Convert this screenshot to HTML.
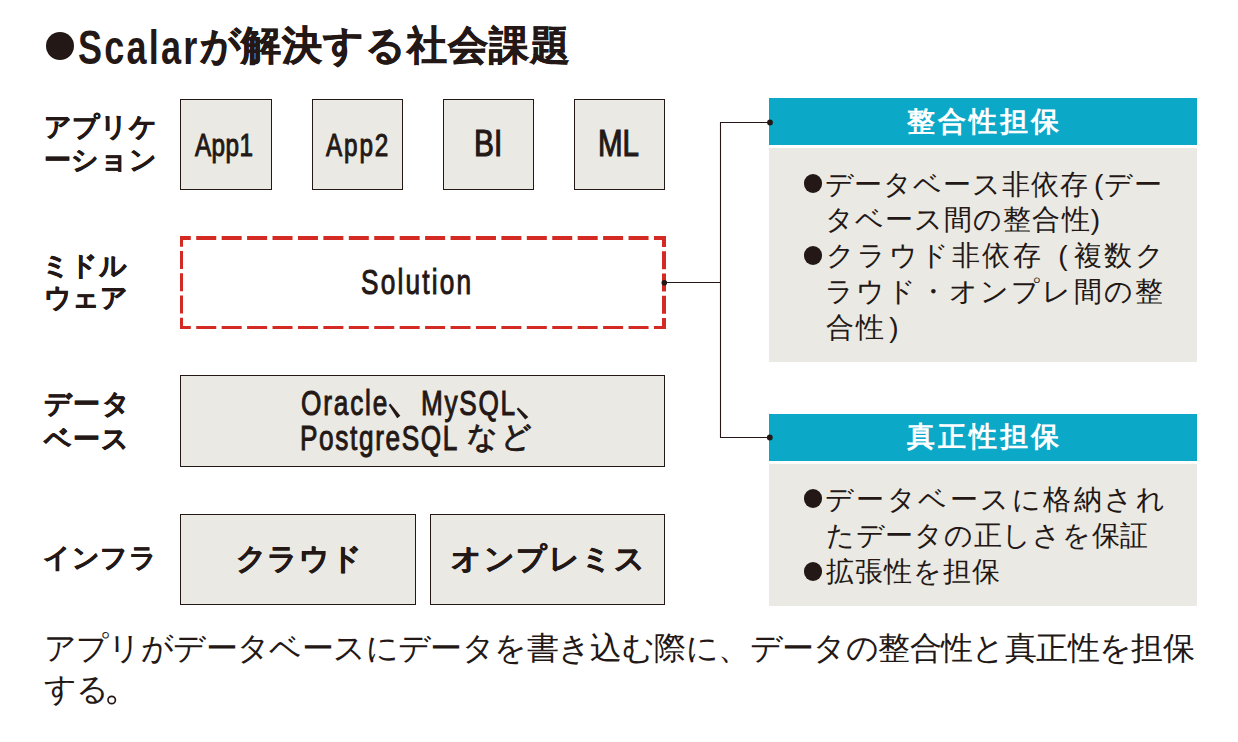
<!DOCTYPE html>
<html><head><meta charset="utf-8">
<style>
html,body{margin:0;padding:0;background:#fff;}
body{width:1238px;height:742px;position:relative;overflow:hidden;font-family:"Liberation Sans",sans-serif;color:#231815;}
.a{position:absolute;}
svg.a{z-index:2;}
.box{position:absolute;box-sizing:border-box;border:1px solid #231815;background:#eae9e3;}
.lat{position:absolute;white-space:nowrap;transform-origin:0 0;line-height:1;-webkit-text-stroke:1px #231815;}
.jp{position:absolute;white-space:nowrap;line-height:1;}
.dot{position:absolute;border-radius:50%;background:#231815;}
.blue{position:absolute;background:#0ca8c8;}
.gray{position:absolute;background:#eae9e3;}
.b{font-weight:bold;}
.lb{-webkit-text-stroke:0.45px #231815;}
</style></head><body>

<!-- title -->
<div class="dot" style="left:46px;top:32px;width:28px;height:28px"></div>
<div class="lat b" style="left:77.5px;top:22.5px;font-size:49px;letter-spacing:3.0px;transform:scaleX(0.735);-webkit-text-stroke:0">Scalar</div>
<div class="jp b" style="left:199.5px;top:26px;font-size:39.5px;letter-spacing:0.95px;-webkit-text-stroke:0.6px #231815">が解決する社会課題</div>

<!-- left labels -->
<div class="jp b lb" style="left:44px;top:114px;font-size:27px;letter-spacing:0.2px">アプリケ</div>
<div class="jp b lb" style="left:43.5px;top:147px;font-size:27px;letter-spacing:0.7px">ーション</div>
<div class="jp b lb" style="left:42px;top:252.5px;font-size:27px;letter-spacing:0.3px">ミドル</div>
<div class="jp b lb" style="left:44px;top:284.5px;font-size:27px;letter-spacing:0.2px">ウェア</div>
<div class="jp b lb" style="left:43.5px;top:390.5px;font-size:27px;letter-spacing:1.5px">データ</div>
<div class="jp b lb" style="left:44px;top:425.5px;font-size:27px;letter-spacing:1px">ベース</div>
<div class="jp b lb" style="left:43px;top:545px;font-size:27px;letter-spacing:0.7px">インフラ</div>

<!-- app boxes -->
<div class="box" style="left:180px;top:99px;width:92px;height:91px"></div>
<div class="box" style="left:312px;top:99px;width:91px;height:91px"></div>
<div class="box" style="left:443px;top:99px;width:91px;height:91px"></div>
<div class="box" style="left:574px;top:99px;width:91px;height:91px"></div>
<div class="lat" style="left:195px;top:129px;font-size:32px;letter-spacing:0.5px;transform:scaleX(0.76)">App1</div>
<div class="lat" style="left:326px;top:129px;font-size:32px;letter-spacing:2.4px;transform:scaleX(0.76)">App2</div>
<div class="lat" style="left:474px;top:126.3px;font-size:36px;transform:scaleX(0.83);-webkit-text-stroke:1.15px #231815">BI</div>
<div class="lat" style="left:598.3px;top:126.3px;font-size:36px;transform:scaleX(0.82);-webkit-text-stroke:1.15px #231815">ML</div>

<!-- lines / dashed box -->
<svg class="a" style="left:0;top:0" width="1238" height="742">
  <g stroke="#d42a24" stroke-width="4" fill="none">
    <line x1="180" y1="238" x2="666" y2="238" stroke-dasharray="20 5.43" stroke-dashoffset="9.2"/>
    <line x1="180" y1="327.5" x2="666" y2="327.5" stroke-width="3" stroke-dasharray="20 5.43" stroke-dashoffset="9.2"/>
    <line x1="181.5" y1="236" x2="181.5" y2="329" stroke-width="3" stroke-dasharray="18 4.25" stroke-dashoffset="7.2"/>
    <line x1="664" y1="236" x2="664" y2="329" stroke-dasharray="18 4.25" stroke-dashoffset="7"/>
  </g>
  <g stroke="#231815" stroke-width="1.1" fill="none">
    <polyline points="664,282.5 720.5,282.5"/>
    <polyline points="770,122.5 720.5,122.5 720.5,437.5 770,437.5"/>
  </g>
  <g fill="#231815">
    <circle cx="664.3" cy="282.7" r="2.8"/>
    <circle cx="770" cy="122.5" r="2.9"/>
    <circle cx="769.8" cy="437.5" r="2.9"/>
  </g>
</svg>
<div class="lat" style="left:361px;top:265.4px;font-size:34.5px;letter-spacing:2.9px;transform:scaleX(0.76)">Solution</div>

<!-- database -->
<div class="box" style="left:180px;top:375px;width:485px;height:92px"></div>
<div class="lat" style="left:300.5px;top:385.5px;font-size:34.5px;letter-spacing:2.4px;transform:scaleX(0.76)">Oracle</div>
<div class="lat" style="left:421.4px;top:385.5px;font-size:34.5px;letter-spacing:2.2px;transform:scaleX(0.76)">MySQL</div>
<div class="lat" style="left:300.2px;top:421.4px;font-size:34.5px;letter-spacing:2.13px;transform:scaleX(0.76)">PostgreSQL</div>
<svg class="a" style="left:0;top:0" width="1238" height="742">
  <g stroke="#231815" stroke-width="3.4" stroke-linecap="butt" fill="none">
  </g>
  <g fill="#231815">
    <polygon points="390.3,403.6 400.3,415.8 397.2,418.2 388.7,404.9"/>
    <polygon points="518.3,407.6 528.3,417 525.2,419.4 516.7,408.9"/>
  </g>
</svg>
<div class="jp" style="left:467px;top:422px;font-size:30px;letter-spacing:3px;-webkit-text-stroke:0.9px #231815">など</div>

<!-- infra -->
<div class="box" style="left:180px;top:514px;width:236px;height:91px"></div>
<div class="box" style="left:430px;top:514px;width:235px;height:91px"></div>
<div class="jp b lb" style="left:235.5px;top:544px;font-size:30px;letter-spacing:0.8px">クラウド</div>
<div class="jp b lb" style="left:451px;top:543.5px;font-size:30px;letter-spacing:1.5px">オンプレミス</div>

<!-- right panels -->
<div class="blue" style="left:769px;top:98px;width:428px;height:47px"></div>
<div class="gray" style="left:769px;top:148px;width:428px;height:214px"></div>
<div class="blue" style="left:769px;top:414px;width:428px;height:47px"></div>
<div class="gray" style="left:769px;top:464px;width:428px;height:142px"></div>
<div class="jp b" style="left:906.7px;top:108.3px;font-size:28px;letter-spacing:3.1px;color:#fff">整合性担保</div>
<div class="jp b" style="left:906.7px;top:423.3px;font-size:28px;letter-spacing:3.1px;color:#fff">真正性担保</div>

<div class="dot" style="left:803.5px;top:174px;width:18.5px;height:18.5px"></div>
<div class="jp" style="left:824.5px;top:170.5px;font-size:28px;letter-spacing:0.95px">データベース非依存<span style="margin-left:5px">(</span>デー</div>
<div class="jp" style="left:824.8px;top:206.2px;font-size:28px;letter-spacing:1.1px">タベース間の整合性)</div>
<div class="dot" style="left:803.5px;top:246px;width:18.5px;height:18.5px"></div>
<div class="jp" style="left:825.8px;top:242px;font-size:28px;letter-spacing:2.5px">クラウド非依存<span style="margin-left:15px;letter-spacing:6px">(</span>複数ク</div>
<div class="jp" style="left:825px;top:278px;font-size:28px;letter-spacing:2.2px">ラウド・オンプレ間の整</div>
<div class="jp" style="left:826px;top:314px;font-size:28px;letter-spacing:1.6px">合性<span style="margin-left:4px">)</span></div>

<div class="dot" style="left:803.5px;top:489px;width:18.5px;height:18.5px"></div>
<div class="jp" style="left:824.5px;top:486px;font-size:28px;letter-spacing:2.5px">データベースに格納され</div>
<div class="jp" style="left:826px;top:522px;font-size:28px;letter-spacing:0.73px">たデータの正しさを保証</div>
<div class="dot" style="left:803.5px;top:562px;width:18.5px;height:18.5px"></div>
<div class="jp" style="left:826px;top:558px;font-size:28px;letter-spacing:1.1px">拡張性を担保</div>

<!-- caption -->
<div class="jp" style="left:43.5px;top:632px;font-size:32px;letter-spacing:-0.59px">アプリがデータベースにデータを書き込む際に、データの整合性と真正性を担保</div>
<div class="jp" style="left:44px;top:673px;font-size:32px;letter-spacing:-0.63px">する</div>
<svg class="a" style="left:0;top:0" width="1238" height="742"><circle cx="111.7" cy="700" r="3.7" stroke="#231815" stroke-width="1.7" fill="none"/></svg>

</body></html>
